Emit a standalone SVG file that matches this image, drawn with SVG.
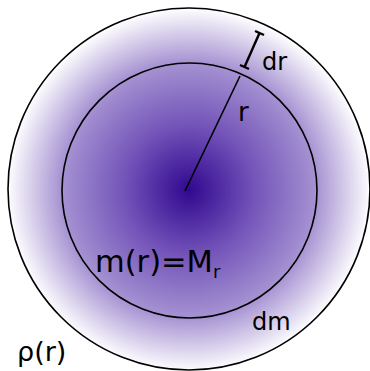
<svg xmlns="http://www.w3.org/2000/svg" width="370" height="371" viewBox="0 0 370 371">
<style>
.ln{stroke:#000;stroke-width:1.6}
.nf{fill:none}
.t{font-family:"DejaVu Sans",sans-serif;font-size:24px;fill:#000}
</style>
<defs>
<radialGradient id="g" cx="189" cy="190" r="182" gradientUnits="userSpaceOnUse">
<stop offset="0" stop-color="#30088f"/>
<stop offset="0.35" stop-color="#7252b8"/>
<stop offset="0.7" stop-color="#a592d2"/>
<stop offset="1" stop-color="#ffffff"/>
</radialGradient>
</defs>
<g id="outer"><circle cx="189" cy="189" r="181" fill="url(#g)" class="ln"/></g>
<g id="inner"><circle cx="189.5" cy="190.5" r="127.5" class="ln nf"/></g>
<g id="connectors">
<line x1="185" y1="191" x2="240" y2="76" class="ln"/>
<g stroke="#000" stroke-width="2.4" fill="none">
<line x1="244.5" y1="67" x2="259.5" y2="33"/>
<line x1="240" y1="65" x2="249" y2="69"/>
<line x1="255" y1="31" x2="264" y2="35"/>
</g>
</g>
<g id="labels">
<text class="t" x="262" y="70">dr</text>
<text class="t" x="238" y="121" style="font-size:26px">r</text>
<text class="t" x="95" y="272" style="font-size:30.5px">m(r)=M<tspan style="font-size:18px" dy="6">r</tspan></text>
<text class="t" x="252" y="330">dm</text>
<text class="t" x="17" y="361" style="font-size:27px">ρ(r)</text>
</g>
</svg>
